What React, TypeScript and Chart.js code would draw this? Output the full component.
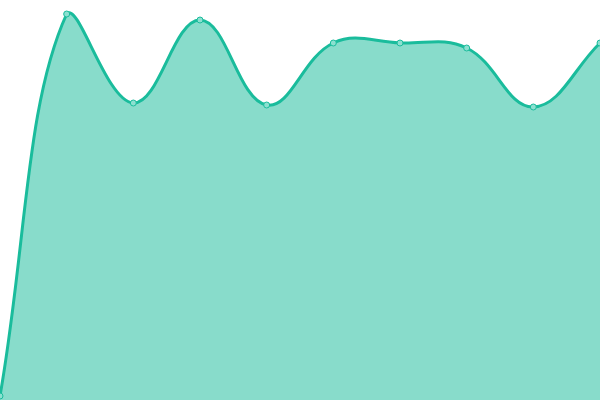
import { Chart, registerables } from 'chart.js'
import { useEffect, useRef } from 'react'

Chart.register(...registerables)

// 数据
const labels = ['1', '2', '3', '4', '5', '6', '7', '8', '9', '10']
const values = [1, 96.5, 74.25, 95, 73.75, 89.25, 89.25, 88, 73.25, 89.25]

const App = () => {
  const chartRef = useRef<HTMLCanvasElement | null>(null)

  useEffect(() => {
    const ctx = chartRef.current?.getContext('2d')
    if (!ctx) return

    const chart = new Chart(ctx, {
      type: 'line',
      data: {
        labels: labels,
        datasets: [
          {
            label: 'series',
            data: values,
            borderColor: '#1abc9c',
            backgroundColor: 'rgba(26, 188, 156, 0.52)',
            borderWidth: 3,
            fill: true,
            tension: 0.4,
            pointRadius: 3,
            pointBorderWidth: 1,
            pointBackgroundColor: '#8ce0d0',
            pointBorderColor: '#1abc9c'
          }
        ]
      },
      options: {
        responsive: true,
        maintainAspectRatio: false,
        animation: false,
        layout: { autoPadding: false, padding: 0 },
        plugins: {
          legend: { display: false },
          tooltip: { enabled: false }
        },
        scales: {
          x: { display: false },
          y: { display: false, min: 0, max: 100 }
        }
      }
    })

    return () => {
      chart.destroy()
    }
  }, [])

  return (
    <div style={{ position: 'fixed', left: 0, top: 0, width: 600, height: 400, background: '#fff' }}>
      <canvas ref={chartRef} />
    </div>
  )
}

export default App
